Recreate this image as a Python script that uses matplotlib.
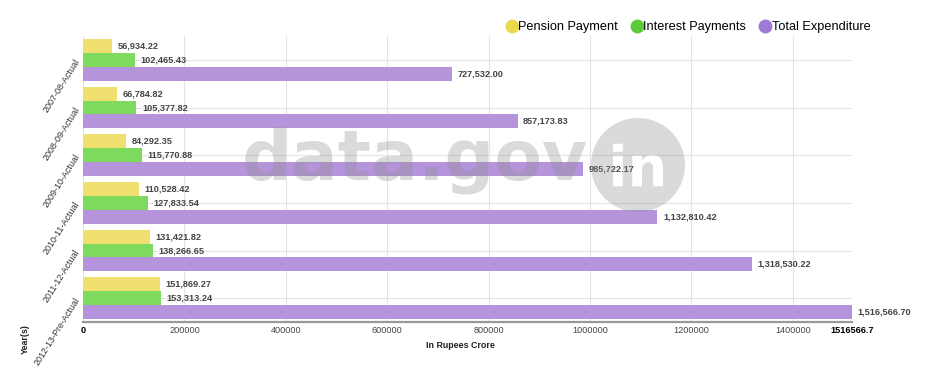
import matplotlib
matplotlib.use("Agg")
import matplotlib.pyplot as plt
import numpy as np
from matplotlib.lines import Line2D
from matplotlib.textpath import TextPath
from matplotlib.path import Path
from matplotlib.patches import PathPatch
from matplotlib.font_manager import FontProperties
from matplotlib.transforms import Affine2D

plt.rcParams['font.family'] = ['Liberation Sans', 'DejaVu Sans']

categories = ["2007-08-Actual", "2008-09-Actual", "2009-10-Actual",
              "2010-11-Actual", "2011-12-Actual", "2012-13-Pre-Actual"]
pension = [56934.22, 66784.82, 84292.35, 110528.42, 131421.82, 151869.27]
interest = [102465.43, 105377.82, 115770.88, 127833.54, 138266.65, 153313.24]
total = [727532.00, 857173.83, 985722.17, 1132810.42, 1318530.22, 1516566.70]
series_names = ["Pension Payment", "Interest Payments", "Total Expenditure"]
bar_colors = ["#F0E070", "#7EDA5C", "#B594DC"]
legend_colors = ["#E9D94B", "#5CCB3A", "#9E7AD6"]
xticks = [0, 200000, 400000, 600000, 800000, 1000000, 1200000, 1400000]
xmax = 1516566.7

W, H = 926, 378
fig = plt.figure(figsize=(W / 100, H / 100), dpi=100)
ax = fig.add_axes([83 / W, 1 - 322 / H, 769 / W, (322 - 36) / H])

y = np.arange(len(categories))
bh = 0.293
all_series = [pension, interest, total]
for k, (vals, col) in enumerate(zip(all_series, bar_colors)):
    pos = y + (k - 1) * bh
    ax.barh(pos, vals, height=bh, color=col, zorder=2)
    for p, v in zip(pos, vals):
        ax.annotate(f"{v:,.2f}", (v, p), xytext=(4, 0), textcoords="offset points",
                    ha="left", va="center", fontsize=6.6, fontweight="bold",
                    color="#444444", clip_on=False, zorder=5)

ax.set_xlim(0, xmax)
ax.set_ylim(len(categories) - 0.5, -0.5)
ax.set_yticks(y)
ax.set_yticklabels(categories, rotation=58, rotation_mode="anchor", ha="right",
                   va="center", fontsize=6.5, color="#333333")
ticks = xticks + [xmax]
ax.set_xticks(ticks)
labels = [str(t) for t in xticks] + ["1516566.7"]
ax.set_xticklabels(labels, fontsize=6.6, color="#444444")
for i, lab in enumerate(ax.get_xticklabels()):
    if i == 0 or i == len(ticks) - 1:
        lab.set_fontweight("bold")
        lab.set_color("#000000")
ax.tick_params(axis="both", length=0, pad=3)
ax.tick_params(axis="y", pad=4)

ax.grid(True, color="#E4E4E4", linewidth=0.8, zorder=0)
ax.set_axisbelow(True)
for s in ["top", "right", "left"]:
    ax.spines[s].set_visible(False)
ax.spines["bottom"].set_color("#999999")
ax.spines["bottom"].set_linewidth(1.6)

fig.text(460 / W, 1 - 345 / H, "In Rupees Crore", ha="center", va="center",
         fontsize=6.4, fontweight="bold", color="#222222")
fig.text(25 / W, 1 - 339 / H, "Year(s)", ha="center", va="center", rotation=90,
         fontsize=6.4, fontweight="bold", color="#222222")

handles = [Line2D([], [], marker="o", linestyle="none", markersize=9,
                  markerfacecolor=c, markeredgecolor=c) for c in legend_colors]
fig.legend(handles, series_names, loc="center", bbox_to_anchor=(688 / W, 1 - 27 / H),
           ncol=3, frameon=False, fontsize=9.2, handletextpad=0.0,
           columnspacing=1.0, handlelength=1.0, borderaxespad=0)

# watermark (pixel coordinates, y up)
pix = Affine2D().scale(1 / W, 1 / H) + fig.transFigure
fig.text(242 / W, 1 - 180 / H, "data.gov", fontsize=50, fontweight="bold",
         color="#8f8f8f", alpha=0.33, ha="left", va="baseline",
         family="DejaVu Sans", zorder=20)
fp = FontProperties(family="DejaVu Sans", weight="bold")
cx, cy, r = 638, H - 165, 47
circ = Path.circle((cx, cy), r)
tp = TextPath((0, 0), "in", size=56, prop=fp)
ext = tp.get_extents()
verts = tp.vertices.copy()
verts[:, 0] = verts[:, 0] - (ext.x0 + ext.x1) / 2 + cx
verts[:, 1] = verts[:, 1] - (ext.y0 + ext.y1) / 2 + cy
tp2 = Path(verts, tp.codes)
comp = Path.make_compound_path(circ, tp2)
fig.patches.append(PathPatch(comp, facecolor="#8f8f8f", edgecolor="none",
                             alpha=0.33, transform=pix, figure=fig, zorder=20))

fig.savefig("out.png", dpi=100)
